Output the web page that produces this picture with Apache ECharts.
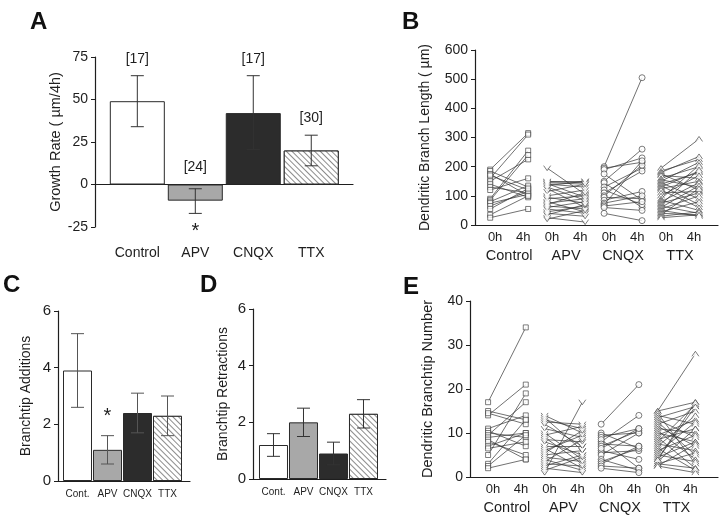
<!DOCTYPE html>
<html>
<head>
<meta charset="utf-8">
<script src="https://cdn.jsdelivr.net/npm/echarts@6/dist/echarts.min.js"></script>
<style>
html, body { margin: 0; padding: 0; background: #fff; }
#chart { width: 720px; height: 519px; }
</style>
</head>
<body>
<div id="chart"></div>
<script>
// groups / labels
const groups = ['Control', 'APV', 'CNQX', 'TTX'];
const groupsShort = ['Cont.', 'APV', 'CNQX', 'TTX'];
const timeLabels = ['0h', '4h'];

// A: growth rate (mean, error range, n)
const growthMean = [49, -9.5, 42, 20];
const growthLow = [34, -17, 20.5, 11];
const growthHigh = [64, -2.5, 64, 29];
const growthN = ['[17]', '[24]', '[17]', '[30]'];
const growthSig = ['', '*', '', ''];

// C: branchtip additions
const addMean = [3.9, 1.1, 2.4, 2.3];
const addLow = [2.6, 0.6, 1.7, 1.6];
const addHigh = [5.2, 1.6, 3.1, 3.0];
const addSig = ['', '*', '', ''];

// D: branchtip retractions
const retMean = [1.2, 2.0, 0.9, 2.3];
const retLow = [0.8, 1.5, 0.5, 1.8];
const retHigh = [1.6, 2.5, 1.3, 2.8];

// B: dendritic branch length, [0h, 4h] per cell
const lenControl = [[190,315],[160,310],[185,130],[175,100],[170,120],[150,225],[140,95],[130,110],[120,160],[90,255],[85,240],[80,135],[75,105],[65,115],[55,125],[35,100],[25,55]];
const lenAPV = [[195,105],[150,150],[148,145],[145,140],[142,95],[140,130],[135,150],[130,85],[125,60],[115,140],[100,120],[95,75],[90,100],[80,45],[75,90],[70,110],[65,55],[60,80],[55,40],[45,65],[40,30],[35,70],[25,10],[20,50]];
const lenCNQX = [[200,505],[195,215],[190,230],[175,85],[150,260],[145,60],[130,195],[120,70],[110,185],[100,205],[95,90],[85,115],[75,100],[70,220],[65,80],[60,50],[40,15]];
const lenTTX = [[195,295],[185,225],[180,235],[175,120],[170,160],[160,200],[155,130],[150,215],[145,90],[140,180],[135,70],[130,185],[125,150],[120,60],[110,115],[100,170],[90,205],[85,50],[80,145],[75,110],[70,190],[65,40],[60,135],[55,100],[50,30],[45,80],[40,35],[35,125],[30,45],[25,35]];

// E: dendritic branchtip number, [0h, 4h] per cell
const tipControl = [[17,34],[15,13],[14,21],[14.5,12],[11,14],[10.5,7],[10,9],[9.5,17],[9,10],[8.5,4],[8,5],[7,10],[6.5,8],[5,19],[3,13],[2.5,9.5],[2,4]];
const tipAPV = [[14,10],[13.5,6],[13,11],[12.5,12],[12,7],[11,9],[10,4],[9.5,11.5],[9,3],[8.5,8],[8,5],[7,7],[6.5,2],[6,9.5],[5.5,10.5],[5,6],[4.5,3.5],[4,1.5],[3.5,8.5],[3,2.5],[2.5,5],[2,1],[1.5,4.5],[1,17]];
const tipCNQX = [[12,21],[10,6.5],[9.5,10],[9,11],[8,14],[8.5,2],[7.5,7],[7,10.5],[6,4],[5.5,6],[5,10],[4,1.5],[3.5,6.5],[3,7],[2.5,2],[2,1],[6.5,11]];
const tipTTX = [[15,28],[15,17],[14.5,3],[14,12],[13.5,16],[13,9],[12.5,5],[12,15],[11.5,7],[11,10],[10.5,4],[10,8],[9.5,13],[9,2],[8.5,11],[8,16.5],[7.5,6],[7,14],[6.5,1.5],[6,9.5],[5.5,12.5],[5,3.5],[4.5,8],[4,17],[3.5,11],[3,5.5],[2.5,1],[3,2],[2.5,7.5],[4,16]];

// styles
const font = 'Liberation Sans, Arial, sans-serif';
const ink = '#1e1e1e';
const barFill = ['#ffffff', '#a8a8a8', '#2c2c2c', '#ffffff'];
const hatch = {
  symbol: 'rect', symbolSize: 1, dashArrayX: [1, 0], dashArrayY: [1, 3],
  rotation: Math.PI / 4, color: '#8c8c8c', backgroundColor: '#ffffff'
};
const markers = [
  { symbol: 'rect', size: 5 },
  { symbol: 'path://M0,0L5,7L10,0', size: [7, 5] },
  { symbol: 'circle', size: 6 },
  { symbol: 'path://M0,7L5,0L10,7', size: [7, 5] }
];

const grids = [], xAxes = [], yAxes = [], series = [];

// pick the label whose position is closest to v
const nearest = (vals, texts) => (v) => {
  let best = 0;
  vals.forEach((c, k) => { if (Math.abs(c - v) < Math.abs(vals[best] - v)) best = k; });
  return texts[best];
};

function yAxisDef(gi, p) {
  return {
    gridIndex: gi, type: 'value', min: p.ymin, max: p.ymax, interval: p.yint,
    name: p.yname, nameLocation: 'middle', nameGap: p.nameGap, nameRotate: 90,
    nameTextStyle: { fontFamily: font, fontSize: p.nameSize || 14, color: ink },
    axisLine: { show: true, onZero: false, lineStyle: { color: ink, width: 1.2 } },
    axisTick: { show: true, length: 4, lineStyle: { color: ink } },
    axisLabel: { fontFamily: font, fontSize: p.tickSize || 14, color: ink, margin: 7 },
    splitLine: { show: false }
  };
}

function addBarPanel(p) {
  const gi = grids.length;
  grids.push({ left: p.left, top: p.top, width: p.width, height: p.height });
  const xi = xAxes.length;
  const catVals = p.cats.map((c, i) => i);
  xAxes.push({
    gridIndex: gi, type: 'value', min: p.xmin, max: p.xmax,
    axisLine: { show: true, onZero: true, lineStyle: { color: ink, width: 1.2 } },
    axisTick: { show: false }, axisLabel: { show: false }, splitLine: { show: false }
  });
  xAxes.push({
    gridIndex: gi, type: 'value', min: p.xmin, max: p.xmax, position: 'bottom',
    axisLine: { show: false, onZero: false }, axisTick: { show: false }, splitLine: { show: false },
    axisLabel: {
      customValues: catVals,
      formatter: nearest(catVals, p.cats),
      margin: p.labelMargin, fontSize: p.labelSize, fontFamily: font, color: ink
    }
  });
  const yi = yAxes.length;
  yAxes.push(yAxisDef(gi, p));

  series.push({
    type: 'bar', xAxisIndex: xi, yAxisIndex: yi, barWidth: p.barWidth, z: 1,
    data: p.mean.map((v, i) => {
      const st = { color: barFill[i], borderColor: '#2a2a2a', borderWidth: 1 };
      if (i === 3) st.decal = hatch;
      return { value: [i, v], itemStyle: st };
    })
  });
  series.push({
    type: 'custom', xAxisIndex: xi, yAxisIndex: yi, z: 5,
    data: p.mean.map((v, i) => [i, p.low[i], p.high[i]]),
    renderItem: (params, api) => {
      const x = api.value(0);
      const lo = api.coord([x, api.value(1)]);
      const hi = api.coord([x, api.value(2)]);
      const w = 6.5;
      const st = { stroke: p.errColor, lineWidth: 1 };
      const children = [
        { type: 'line', shape: { x1: lo[0], y1: lo[1], x2: hi[0], y2: hi[1] }, style: st },
        { type: 'line', shape: { x1: lo[0] - w, y1: lo[1], x2: lo[0] + w, y2: lo[1] }, style: st },
        { type: 'line', shape: { x1: hi[0] - w, y1: hi[1], x2: hi[0] + w, y2: hi[1] }, style: st }
      ];
      const i = params.dataIndex;
      if (p.nLabels) {
        const ref = api.coord([x, Math.max(api.value(2), 0)]);
        children.push({
          type: 'text', x: ref[0], y: ref[1] - 17,
          style: { text: p.nLabels[i], fontFamily: font, fontSize: 14, fill: ink, align: 'center', verticalAlign: 'middle' }
        });
      }
      if (p.sig && p.sig[i]) {
        const below = p.sigBelow;
        const ref = below ? lo : hi;
        children.push({
          type: 'text', x: ref[0], y: below ? ref[1] + 8 : ref[1] - 29,
          style: { text: p.sig[i], fontFamily: font, fontSize: 20, fill: ink, align: 'center', verticalAlign: 'top' }
        });
      }
      return { type: 'group', children: children };
    }
  });
}

function addPairPanel(p) {
  const gi = grids.length;
  grids.push({ left: p.left, top: p.top, width: p.width, height: p.height });
  const xi = xAxes.length;
  const timeVals = [], timeText = [];
  p.sets.forEach((s, g) => {
    timeVals.push(g * 1.5 + 0.13, g * 1.5 + 0.87);
    timeText.push(timeLabels[0], timeLabels[1]);
  });
  const groupVals = groups.map((g, i) => i * 1.5 + 0.5);
  xAxes.push({
    gridIndex: gi, type: 'value', min: p.xmin, max: p.xmax,
    axisLine: { show: true, onZero: false, lineStyle: { color: ink, width: 1.2 } },
    axisTick: { show: false }, splitLine: { show: false },
    axisLabel: {
      customValues: timeVals,
      formatter: nearest(timeVals, timeText),
      margin: 6, fontSize: 13, fontFamily: font, color: ink
    }
  });
  xAxes.push({
    gridIndex: gi, type: 'value', min: p.xmin, max: p.xmax, position: 'bottom',
    axisLine: { show: false, onZero: false }, axisTick: { show: false }, splitLine: { show: false },
    axisLabel: {
      customValues: groupVals,
      formatter: nearest(groupVals, groups),
      margin: 23, fontSize: 14.5, fontFamily: font, color: ink
    }
  });
  const yi = yAxes.length;
  yAxes.push(yAxisDef(gi, p));

  p.sets.forEach((pairs, g) => {
    const x0 = g * 1.5, x1 = g * 1.5 + 1;
    series.push({
      type: 'lines', coordinateSystem: 'cartesian2d', xAxisIndex: xi, yAxisIndex: yi, silent: true, z: 2,
      lineStyle: { color: '#333', width: 0.7, opacity: 1 },
      data: pairs.map(pr => ({ coords: [[x0, pr[0]], [x1, pr[1]]] }))
    });
    series.push({
      type: 'scatter', xAxisIndex: xi, yAxisIndex: yi, z: 3,
      symbol: markers[g].symbol, symbolSize: markers[g].size,
      itemStyle: { color: '#fff', borderColor: '#333', borderWidth: 0.8 },
      data: pairs.flatMap(pr => [[x0, pr[0]], [x1, pr[1]]])
    });
  });
}

// A
addBarPanel({
  left: 95, top: 57, width: 258, height: 170, xmin: -0.73, xmax: 3.72,
  ymin: -25, ymax: 75, yint: 25, yname: 'Growth Rate ( µm/4h)', nameGap: 32, nameSize: 14.5,
  cats: groups, labelMargin: 19, labelSize: 14, barWidth: 55,
  mean: growthMean, low: growthLow, high: growthHigh, errColor: '#333',
  nLabels: growthN, sig: growthSig, sigBelow: true
});
// C
addBarPanel({
  left: 58, top: 311, width: 132, height: 170, xmin: -0.65, xmax: 3.75,
  ymin: 0, ymax: 6, yint: 2, yname: 'Branchtip Additions', nameGap: 25, tickSize: 15,
  cats: groupsShort, labelMargin: 8, labelSize: 10, barWidth: 29,
  mean: addMean, low: addLow, high: addHigh, errColor: '#555',
  sig: addSig, sigBelow: false
});
// D
addBarPanel({
  left: 253, top: 309, width: 133, height: 170, xmin: -0.683, xmax: 3.75,
  ymin: 0, ymax: 6, yint: 2, yname: 'Branchtip Retractions', nameGap: 23, tickSize: 15,
  cats: groupsShort, labelMargin: 8, labelSize: 10, barWidth: 29,
  mean: retMean, low: retLow, high: retHigh, errColor: '#333'
});
// B
addPairPanel({
  left: 475, top: 50, width: 243, height: 175, xmin: -0.4, xmax: 6.0,
  ymin: 0, ymax: 600, yint: 100, yname: 'Dendritic Branch Length ( µm)', nameGap: 43, nameSize: 14,
  sets: [lenControl, lenAPV, lenCNQX, lenTTX]
});
// E
addPairPanel({
  left: 470, top: 301, width: 248, height: 176, xmin: -0.48, xmax: 6.1,
  ymin: 0, ymax: 40, yint: 10, yname: 'Dendritic Branchtip Number', nameGap: 35, nameSize: 14.5,
  sets: [tipControl, tipAPV, tipCNQX, tipTTX]
});

const letter = (t, left, top) => ({
  text: t, left: left, top: top, padding: 0,
  textStyle: { fontFamily: font, fontSize: 24, fontWeight: 'bold', color: '#111' }
});

const chart = echarts.init(document.getElementById('chart'), null, { renderer: 'canvas' });
chart.setOption({
  animation: false,
  backgroundColor: '#fff',
  title: [letter('A', 30, 10), letter('B', 402, 10), letter('C', 3, 273), letter('D', 200, 273), letter('E', 403, 275)],
  grid: grids,
  xAxis: xAxes,
  yAxis: yAxes,
  series: series
});
</script>
</body>
</html>
